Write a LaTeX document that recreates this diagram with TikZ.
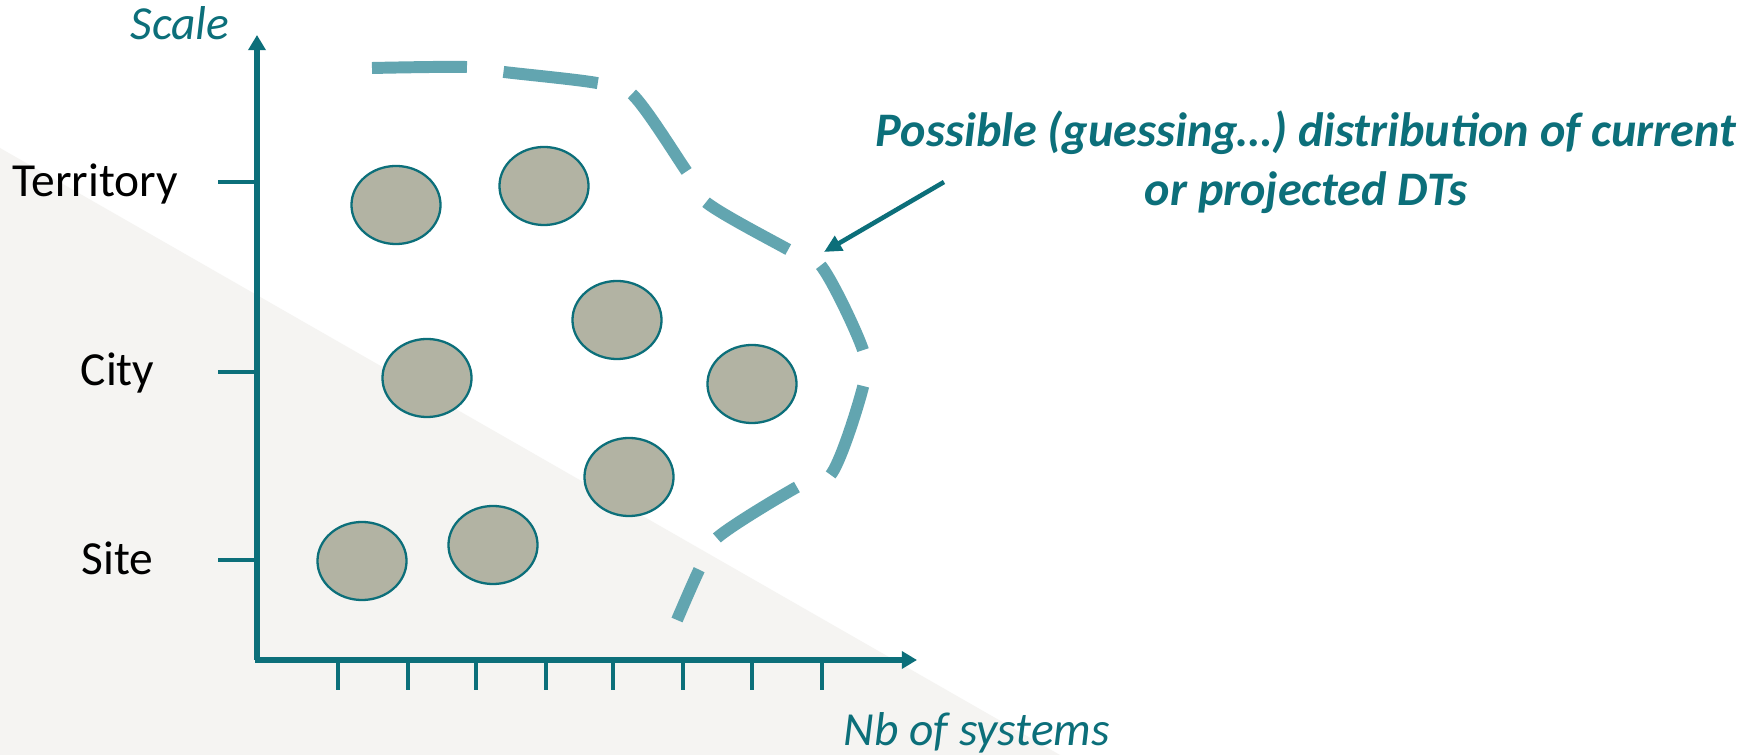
\documentclass[tikz,border=0pt]{standalone}
\usepackage{fontspec}
\setmainfont{Carlito}
\usetikzlibrary{arrows.meta, shapes.geometric}

\definecolor{axisteal}{RGB}{12,111,122}
\definecolor{dashteal}{RGB}{98,165,176}
\definecolor{dtfill}{RGB}{178,179,163}
\definecolor{bggrey}{RGB}{245,244,242}

\tikzset{
  dt/.style={ellipse, draw=axisteal, line width=0.65pt, fill=dtfill,
    minimum width=0.89cm, minimum height=0.78cm, inner sep=0pt},
  axis/.style={draw=axisteal, line width=1.45pt},
  tick/.style={draw=axisteal, line width=1.4pt},
  level/.style={font=\fontsize{13.5}{16}\selectfont, inner sep=0pt, anchor=base west},
  axislabel/.style={text=axisteal, font=\itshape\fontsize{13.5}{16}\selectfont, inner sep=0pt},
  guess/.style={draw=dashteal, line width=3.4pt, dash pattern=on 27pt off 10.5pt},
  note/.style={text=axisteal, align=center, inner sep=0pt,
    font=\bfseries\itshape\fontsize{13.7}{16.8}\selectfont}
}

\begin{document}
\begin{tikzpicture}[x=0.01cm, y=-0.01cm]

    % page and shaded triangle
    \fill[white] (0,0) rectangle (1760,755);
    \fill[bggrey] (0,148) -- (1060,755) -- (0,755) -- cycle;

    % axes
    \coordinate (origin) at (257,660);
    \coordinate (ytop) at (257,35);
    \coordinate (xend) at (917,660);
    \draw[axis, -{Triangle[length=4.3pt, width=4.8pt]}] (origin) -- (ytop);
    \draw[axis, -{Triangle[length=4.3pt, width=4.8pt]}] ([xshift=-0.7pt]origin) -- (xend);

    % scale ticks and their labels
    \coordinate (territory) at (257,182);
    \coordinate (city) at (257,372);
    \coordinate (site) at (257,560);
    \draw[tick] (territory) -- ++(-39,0);
    \draw[tick] (city) -- ++(-39,0);
    \draw[tick] (site) -- ++(-39,0);
    \node[level] (lterritory) at (12,197) {Territory};
    \node[level] (lcity) at (80,386) {City};
    \node[level] (lsite) at (81,574) {Site};

    % system ticks
    \foreach \x in {338,408,476,546,613,683,752,822}
        \draw[tick] (\x,660) -- (\x,690);

    \node[axislabel, anchor=base] (scale) at (180,40) {Scale};
    \node[axislabel, anchor=base west] (systems) at (843,745) {Nb of systems};

    % digital twins
    \node[dt] (d1) at (396,205) {};
    \node[dt] (d2) at (544,186) {};
    \node[dt] (d3) at (617,320) {};
    \node[dt] (d4) at (427,378) {};
    \node[dt] (d5) at (752,384) {};
    \node[dt] (d6) at (629,477) {};
    \node[dt] (d7) at (362,561) {};
    \node[dt] (d8) at (493,545) {};

    % guessed boundary
    \draw[guess] plot[smooth, tension=0.55] coordinates {(372,68) (466,67) (504,72) (597,83)
        (633,95) (687,172) (707,203) (789,250) (822,267) (863,350) (863,387)
        (832,473) (797,487) (718,537) (700,568) (677,620)};

    % annotation
    \node[note] (remark) at (1306,162) {Possible (guessing…) distribution of current\\or projected DTs};
    \coordinate (from) at (944,182);
    \coordinate (to) at (824,252);
    \draw[axisteal, line width=1.3pt, -{Triangle[length=5pt, width=4.6pt]}] (from) -- (to);

\end{tikzpicture}
\end{document}
